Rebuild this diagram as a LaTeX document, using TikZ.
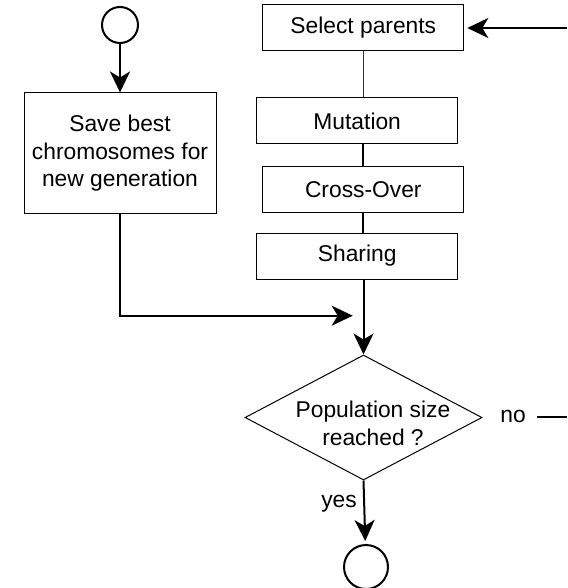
\documentclass[tikz,border=0pt]{standalone}
\usepackage{fontspec}
\setmainfont{Liberation Sans}
\usetikzlibrary{arrows.meta,shapes.geometric}

\tikzset{
  procbox/.style={draw, line width=0.5pt, minimum width=100.5pt, minimum height=23pt, inner sep=2pt},
  flow/.style={line width=1pt, -{Stealth[length=10.5pt,width=10pt,inset=3pt]}},
  link/.style={line width=1pt},
  terminal/.style={circle, draw, line width=1pt, inner sep=0pt},
}

\begin{document}
\begin{tikzpicture}[x=0.5pt, y=-0.5pt, font=\fontsize{11.4}{13.7}\selectfont]
    \useasboundingbox (0,0) rectangle (567,588);

    % start and stop circles
    \node[terminal, minimum size=18pt] (start) at (120,25) {};
    \node[terminal, minimum size=22pt] (stop) at (366,567) {};

    % process boxes
    \node[procbox, minimum width=96pt, minimum height=60.5pt, align=center] (save) at (120,153.5) {Save best\\chromosomes for\\new generation};
    \node[procbox] (select) at (363.3,28) {Select parents};
    \node[procbox] (mutation) at (357.2,121) {Mutation};
    \node[procbox] (crossover) at (363.3,190) {Cross-Over};
    \node[procbox] (sharing) at (357.2,256) {Sharing};

    % decision
    \node[diamond, draw, line width=0.5pt, minimum width=118.5pt, minimum height=62.5pt, inner sep=0pt] (check) at (363.5,417.5) {};
    \node[align=center] (checktext) at (373,423.5) {Population size\\reached ?};

    % labels of the two exits
    \node (no) at (513,416) {no};
    \node (yes) at (339,504) {yes};

    % free ends of the loop
    \coordinate (loopin) at (567,28);
    \coordinate (loopout1) at (537,417);
    \coordinate (loopout2) at (567,417);
    \coordinate (join) at (352.7,315.7);

    % connectors
    \draw[flow] (start) -- (save);
    \draw[flow, shorten >=1.5pt] (loopin) -- (select.east);
    \draw[line width=0.6pt, black!80] (select.south) -- (select.south |- mutation.north);
    \draw[link] (mutation.south -| select.south) -- (crossover.north -| select.south);
    \draw[link] (crossover.south) -- (crossover.south |- sharing.north);
    \draw[flow] (sharing.south -| check.north) -- (check.north);
    \draw[flow] (save.south) |- (join);
    \draw[flow, shorten >=1.5pt] (check.south) -- (stop);
    \draw[link] (loopout1) -- (loopout2);
\end{tikzpicture}
\end{document}
